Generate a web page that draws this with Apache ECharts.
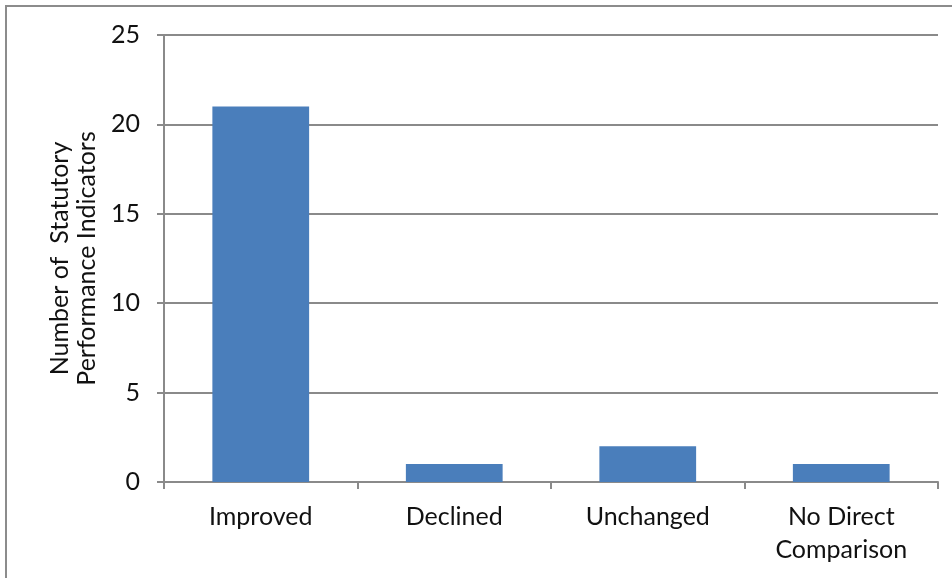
<!DOCTYPE html>
<html>
<head>
<meta charset="utf-8">
<script src="https://cdn.jsdelivr.net/npm/echarts@6/dist/echarts.min.js"></script>
<style>
  html, body { margin: 0; padding: 0; background: #fff; }
  #frame { position: absolute; left: 5px; top: 5px; width: 960px; height: 600px; border: 2px solid #8c8c8c; box-sizing: border-box; }
  #chart { position: absolute; left: 0; top: 0; width: 952px; height: 578px; }
</style>
</head>
<body>
<div id="frame"></div>
<div id="chart"></div>
<script>
// Change in statutory performance indicators
const categories = ['Improved', 'Declined', 'Unchanged', 'No Direct\nComparison'];
const indicatorCounts = [21, 1, 2, 1];
const yTicks = [0, 5, 10, 15, 20, 25];

const font = 'Lato, "Open Sans", sans-serif';
const chart = echarts.init(document.getElementById('chart'), null, { renderer: 'canvas' });
chart.setOption({
  backgroundColor: 'transparent',
  animation: false,
  grid: { left: 164, right: 14, top: 35, bottom: 96, containLabel: false },
  xAxis: {
    type: 'category',
    data: categories,
    axisLine: { lineStyle: { color: '#8a8a8a', width: 2 } },
    axisTick: { show: true, length: 7, alignWithLabel: false, lineStyle: { color: '#8a8a8a', width: 2 } },
    axisLabel: { color: '#111', fontSize: 25, fontFamily: font, margin: 18, lineHeight: 33 }
  },
  yAxis: {
    type: 'value',
    min: yTicks[0],
    max: yTicks[yTicks.length - 1],
    interval: 5,
    name: 'Number of  Statutory\nPerformance Indicators',
    nameLocation: 'middle',
    nameRotate: 90,
    nameGap: 62,
    nameTextStyle: { color: '#111', fontSize: 25, fontFamily: font, lineHeight: 27 },
    axisLine: { show: true, lineStyle: { color: '#8a8a8a', width: 2 } },
    axisTick: { show: true, length: 7, lineStyle: { color: '#8a8a8a', width: 2 } },
    axisLabel: { color: '#111', fontSize: 25, fontFamily: font, margin: 24 },
    splitLine: { show: true, lineStyle: { color: '#8a8a8a', width: 2 } }
  },
  series: [{
    type: 'bar',
    data: indicatorCounts,
    barWidth: '50%',
    itemStyle: { color: '#4a7ebb' }
  }]
});
</script>
</body>
</html>
